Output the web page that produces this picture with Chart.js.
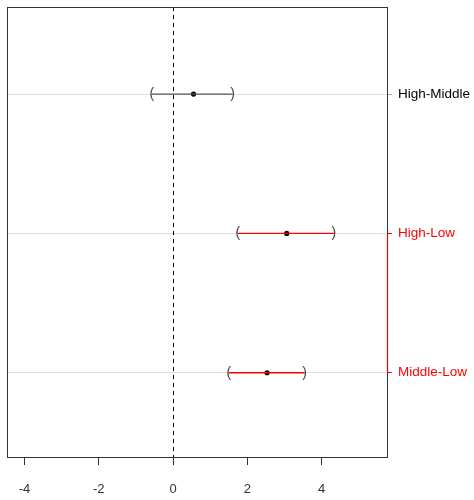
<!DOCTYPE html>
<html>
<head>
<meta charset="utf-8">
<script src="https://cdn.jsdelivr.net/npm/chart.js@4"></script>
<style>
  html, body { margin: 0; padding: 0; background: #fff; }
  #chart { display: block; }
</style>
</head>
<body>
<canvas id="chart" width="474" height="500"></canvas>
<script>
// pairwise contrasts, top to bottom
const contrasts = ['High-Middle', 'High-Low', 'Middle-Low'];
const positions = [3, 2, 1];
const estimates = [0.55, 3.06, 2.53];
const lower = [-0.57, 1.74, 1.50];
const upper = [1.60, 4.33, 3.54];
const xTicks = [-4, -2, 0, 2, 4];

const FONT = '"Liberation Sans", Arial, sans-serif';
const isSig = i => lower[i] > 0 || upper[i] < 0;
const barColor = i => isSig(i) ? '#ff0000' : '#555555';

const intervalSets = contrasts.map((c, i) => ({
    label: c,
    data: [{ x: lower[i], y: positions[i] }, { x: upper[i], y: positions[i] }],
    showLine: true,
    borderColor: barColor(i),
    borderWidth: 1.3,
    pointRadius: 0
}));

const pointSet = {
    label: 'estimate',
    data: estimates.map((e, i) => ({ x: e, y: positions[i] })),
    backgroundColor: '#000',
    borderColor: '#000',
    pointRadius: 2.6,
    borderWidth: 0
};

// frame, zero line, interval brackets and the significance bar
const decorations = {
    id: 'decorations',
    beforeDatasetsDraw(chart) {
        const { ctx, chartArea: a, scales: { x } } = chart;
        const x0 = x.getPixelForValue(0);
        ctx.save();
        ctx.strokeStyle = '#000';
        ctx.lineWidth = 1;
        ctx.setLineDash([4, 4]);
        ctx.beginPath();
        ctx.moveTo(Math.round(x0) + 0.5, a.top);
        ctx.lineTo(Math.round(x0) + 0.5, a.bottom);
        ctx.stroke();
        ctx.restore();
    },
    afterDraw(chart) {
        const { ctx, chartArea: a, scales: { x, y } } = chart;
        ctx.save();
        ctx.strokeStyle = '#333';
        ctx.lineWidth = 1;
        ctx.strokeRect(a.left + 0.5, a.top + 0.5, a.right - a.left - 1, a.bottom - a.top - 1);

        ctx.fillStyle = '#444';
        ctx.font = '14px ' + FONT;
        ctx.textAlign = 'center';
        ctx.textBaseline = 'middle';
        contrasts.forEach((c, i) => {
            const py = y.getPixelForValue(positions[i]);
            ctx.fillText('(', x.getPixelForValue(lower[i]), py);
            ctx.fillText(')', x.getPixelForValue(upper[i]), py);
        });

        const sig = positions.filter((p, i) => isSig(i));
        if (sig.length > 1) {
            const ys = sig.map(p => y.getPixelForValue(p));
            const rx = Math.round(a.right) - 0.5;
            ctx.strokeStyle = '#ff0000';
            ctx.lineWidth = 1.2;
            ctx.beginPath();
            ctx.moveTo(rx, Math.min(...ys));
            ctx.lineTo(rx, Math.max(...ys));
            ctx.stroke();
        }
        ctx.restore();
    }
};

new Chart(document.getElementById('chart'), {
    type: 'scatter',
    data: { datasets: [...intervalSets, pointSet] },
    options: {
        responsive: false,
        animation: false,
        layout: { padding: { left: 7, top: 7, right: 0, bottom: 0 } },
        plugins: { legend: { display: false }, tooltip: { enabled: false } },
        scales: {
            x: {
                type: 'linear',
                position: 'bottom',
                min: -4.47,
                max: 5.785,
                afterBuildTicks: axis => { axis.ticks = xTicks.map(v => ({ value: v })); },
                afterFit: axis => { axis.height = 42; axis.paddingLeft = 0; axis.paddingRight = 0; },
                grid: { drawOnChartArea: false, drawTicks: true, tickLength: 7, color: '#333' },
                border: { display: false },
                ticks: { color: '#333', padding: 17, font: { family: FONT, size: 13 } }
            },
            y: {
                type: 'linear',
                position: 'right',
                min: 0.388,
                max: 3.625,
                afterBuildTicks: axis => { axis.ticks = positions.map(v => ({ value: v })); },
                afterFit: axis => { axis.width = 86; axis.paddingTop = 0; axis.paddingBottom = 0; },
                grid: {
                    color: '#dddddd',
                    tickLength: 4,
                    tickColor: c => {
                        const i = positions.indexOf(c.tick && c.tick.value);
                        return i >= 0 && isSig(i) ? '#ff0000' : '#aaaaaa';
                    }
                },
                border: { display: false },
                ticks: {
                    padding: 6,
                    font: { family: FONT, size: 13.5 },
                    color: c => {
                        const i = positions.indexOf(c.tick.value);
                        return isSig(i) ? '#ff0000' : '#000';
                    },
                    callback: v => contrasts[positions.indexOf(v)]
                }
            }
        }
    },
    plugins: [decorations]
});
</script>
</body>
</html>
